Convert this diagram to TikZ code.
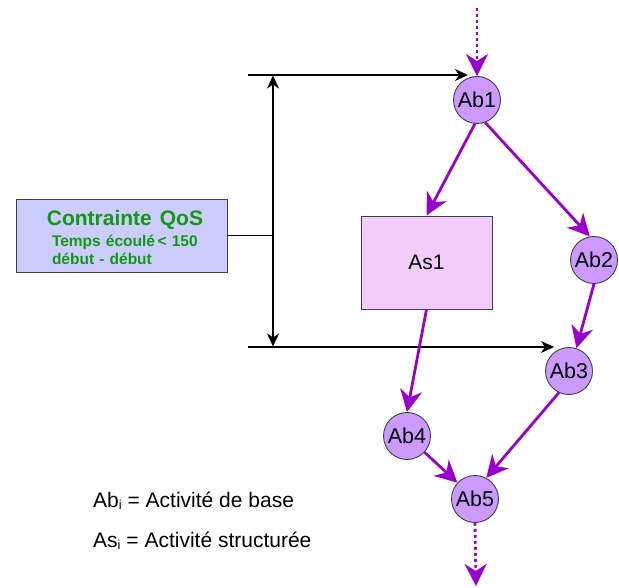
\documentclass[tikz,border=0pt]{standalone}
\usepackage{fontspec}
\setmainfont{Liberation Sans}
\usetikzlibrary{arrows.meta}
\definecolor{purp}{HTML}{9900CC}
\definecolor{circfill}{HTML}{CC99FF}
\definecolor{asfill}{HTML}{F2CCFA}
\definecolor{qosfill}{HTML}{CCCCFF}
\definecolor{qosgreen}{HTML}{119911}
\definecolor{edgegray}{HTML}{404040}
\newcommand{\subi}{\raisebox{-2pt}{\fontsize{13}{13}\selectfont i}}
\begin{document}
\begin{tikzpicture}[x=1pt,y=-1pt,
  base/.style={circle, draw=edgegray, line width=0.9pt, fill=circfill, minimum size=47pt, inner sep=0pt, font=\fontsize{21.5}{23}\selectfont},
  sbox/.style={draw=edgegray, line width=0.9pt, fill=asfill, minimum width=131pt, minimum height=93pt, inner sep=0pt, font=\fontsize{21}{23}\selectfont},
  qbox/.style={draw=edgegray, line width=0.9pt, fill=qosfill, minimum width=211pt, minimum height=73pt, inner sep=0pt},
  parr/.style={draw=purp, line width=2.8pt, -{Stealth[length=22pt,width=22pt,inset=7pt]}},
  pdot/.style={draw=purp, line width=2.8pt, dash pattern=on 2.8pt off 3.2pt, -{Stealth[length=22pt,width=22pt,inset=7pt]}},
  barr/.style={draw=black, line width=1.1pt, -{Stealth[length=13pt,width=12pt,inset=4pt]}},
  bdbl/.style={draw=black, line width=1.1pt, {Stealth[length=13pt,width=12pt,inset=4pt]}-{Stealth[length=13pt,width=12pt,inset=4pt]}},
  legend/.style={anchor=west, inner sep=0pt, font=\fontsize{21}{23}\selectfont}
]
\useasboundingbox (0,0) rectangle (619,588);

% nodes
\node[base] (ab1) at (477,100) {Ab1};
\node[base] (ab2) at (594,260) {Ab2};
\node[base] (ab3) at (569,371) {Ab3};
\node[base] (ab4) at (407,436) {Ab4};
\node[base] (ab5) at (475,499) {Ab5};
\node[sbox] (as1) at (426.5,262.5) {As1};
\node[qbox] (qos) at (121.5,235.5) {};
\node[inner sep=0pt, text width=158pt, align=left, text=qosgreen,
      font=\bfseries\fontsize{15.5}{18}\selectfont] (qostext) at (126,237)
  {\makebox[156pt]{\fontsize{21}{24}\selectfont Contrainte\hspace{8pt}QoS}\\[3pt]
   \hspace*{5pt}Temps écoulé\,< 150\\
   \hspace*{5pt}début - début};

\node[legend] (leg1) at (93,501) {Ab\subi{} = Activité de base};
\node[legend] (leg2) at (93,541) {As\subi{} = Activité structurée};

% free ends
\coordinate (top) at (477,8);
\coordinate (bot) at (476,586);
\coordinate (t1) at (248,75);
\coordinate (t2) at (468,75);
\coordinate (b1) at (248,347);
\coordinate (b2) at (554,347);
\coordinate (v1) at (273,75.5);
\coordinate (v2) at (273,346.5);
\coordinate (vm) at (273,235.5);

% black lines
\draw[barr] (t1) -- (t2);
\draw[barr] (b1) -- (b2);
\draw[bdbl] (v1) -- (v2);
\draw[black, line width=1.1pt] (qos.east) -- (vm);

% purple arrows
\draw[pdot] (top) -- (ab1.north);
\draw[parr] (ab1.-95) -- (as1.north);
\draw[parr] (ab1.-70) -- (ab2.100);
\draw[parr] (ab2.south) -- (ab3.72);
\draw[parr] (as1.south) -- (ab4.north);
\draw[parr] (ab3.-115) -- (ab5.62);
\draw[parr] (ab4) -- (ab5);
\draw[pdot] (ab5.south) -- (bot);
\end{tikzpicture}
\end{document}
